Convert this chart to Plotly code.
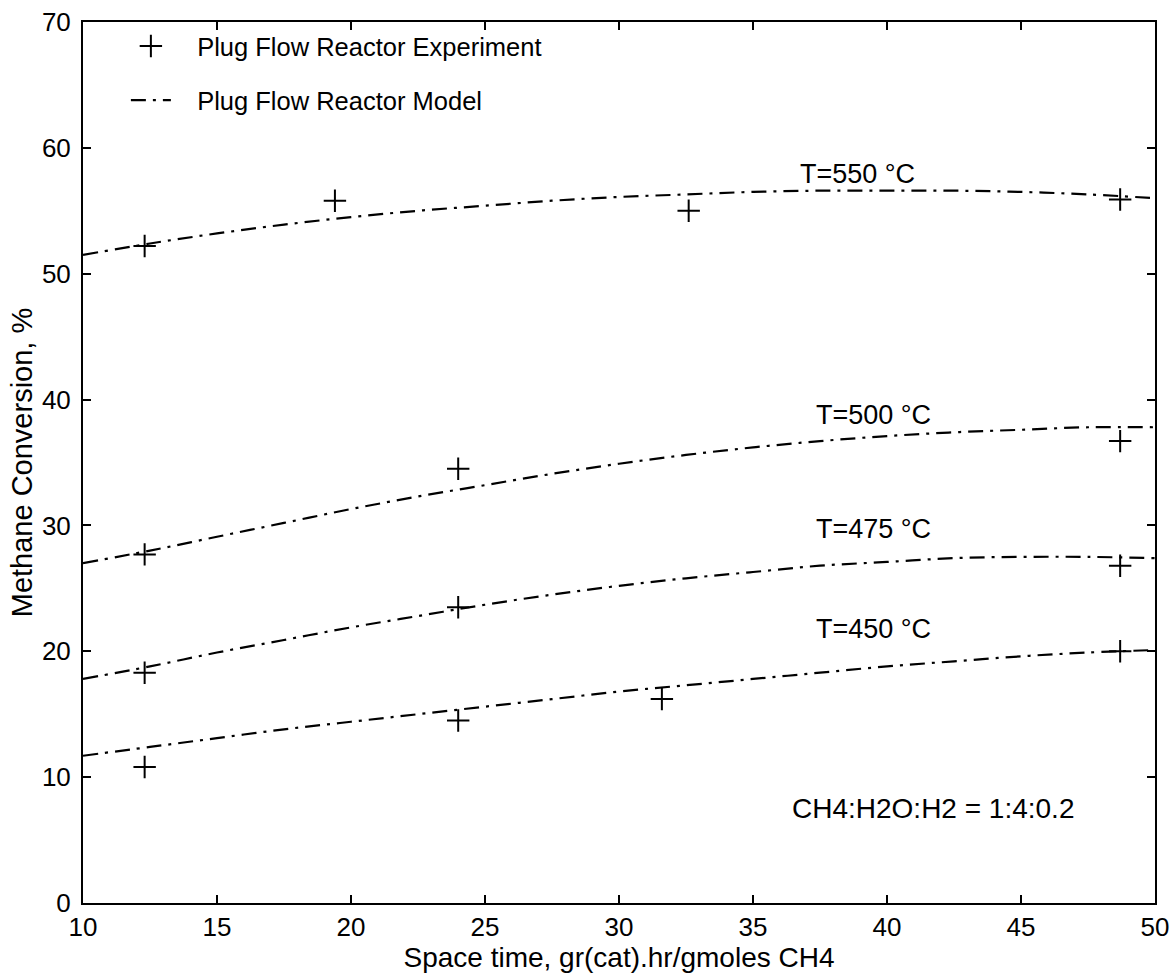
import plotly.graph_objects as go

# ---- data ----
x_model = [10, 12.5, 15, 17.5, 20, 22.5, 25, 27.5, 30, 32.5, 35, 37.5, 40, 42.5, 45, 47.5, 50]
model_550 = [51.5, 52.4, 53.2, 53.9, 54.5, 55.0, 55.4, 55.8, 56.1, 56.3, 56.5, 56.6, 56.6, 56.6, 56.5, 56.3, 56.0]
model_500 = [27.0, 28.0, 29.1, 30.2, 31.3, 32.3, 33.2, 34.1, 34.9, 35.6, 36.2, 36.7, 37.1, 37.4, 37.6, 37.8, 37.8]
model_475 = [17.8, 18.8, 19.9, 20.9, 21.9, 22.8, 23.7, 24.5, 25.2, 25.8, 26.3, 26.8, 27.1, 27.4, 27.5, 27.5, 27.4]
model_450 = [11.7, 12.4, 13.1, 13.8, 14.4, 15.0, 15.6, 16.2, 16.8, 17.3, 17.8, 18.3, 18.8, 19.2, 19.6, 19.9, 20.1]

exp_550_x = [12.3, 19.4, 32.6, 48.7]
exp_550_y = [52.2, 55.8, 55.0, 55.9]
exp_500_x = [12.3, 24.0, 48.7]
exp_500_y = [27.7, 34.5, 36.7]
exp_475_x = [12.3, 24.0, 48.7]
exp_475_y = [18.3, 23.5, 26.8]
exp_450_x = [12.3, 24.0, 31.6, 48.7]
exp_450_y = [10.8, 14.5, 16.2, 20.0]

labels = ["T=550 °C", "T=500 °C", "T=475 °C", "T=450 °C"]
label_x = [38.9, 39.5, 39.5, 39.5]
label_y = [57.9, 38.8, 29.7, 21.8]

note_text = "CH4:H2O:H2 = 1:4:0.2"
note_x, note_y = 41.7, 7.5

x_ticks = [10, 15, 20, 25, 30, 35, 40, 45, 50]
y_ticks = [0, 10, 20, 30, 40, 50, 60, 70]

FONT = "Liberation Sans, Arial, Helvetica, sans-serif"
DASH = "15px,7px,3px,7px"
SP = "\u00a0\u00a0\u00a0"

fig = go.Figure()

exp_sets = [(exp_550_x, exp_550_y), (exp_500_x, exp_500_y), (exp_475_x, exp_475_y), (exp_450_x, exp_450_y)]
for i, (ex, ey) in enumerate(exp_sets):
    fig.add_trace(go.Scatter(
        x=ex, y=ey, mode="markers", name=SP + "Plug Flow Reactor Experiment",
        legendgroup="exp", showlegend=(i == 0),
        marker=dict(symbol="cross-thin", size=16, color="black",
                    line=dict(width=2, color="black")),
    ))

for i, my in enumerate([model_550, model_500, model_475, model_450]):
    fig.add_trace(go.Scatter(
        x=x_model, y=my, mode="lines", name=SP + "Plug Flow Reactor Model",
        legendgroup="model", showlegend=(i == 0), line_shape="spline",
        line=dict(color="black", width=2.2, dash=DASH),
    ))

for t, lx, ly in zip(labels, label_x, label_y):
    fig.add_annotation(x=lx, y=ly, text=t, showarrow=False,
                       font=dict(size=27, color="black", family=FONT))
fig.add_annotation(x=note_x, y=note_y, text=note_text, showarrow=False,
                   font=dict(size=28, color="black", family=FONT))

axis_common = dict(showgrid=False, zeroline=False, showline=True, linecolor="black",
                   linewidth=2, mirror="ticks", ticks="inside", ticklen=8,
                   tickwidth=1.5, tickcolor="black", automargin=False,
                   ticklabeloverflow="allow",
                   tickfont=dict(size=26, color="black", family=FONT))

fig.update_xaxes(range=[10, 50], tickvals=x_ticks,
                 title=dict(text="Space time, gr(cat).hr/gmoles CH4", standoff=2,
                            font=dict(size=28, color="black", family=FONT)),
                 **axis_common)
fig.update_yaxes(range=[0, 70], tickvals=y_ticks, ticklabelstandoff=5,
                 title=dict(text="Methane Conversion, %", standoff=1,
                            font=dict(size=29, color="black", family=FONT)),
                 **axis_common)

fig.update_layout(
    width=1175, height=980,
    margin=dict(l=83, r=20, t=22, b=77, autoexpand=False),
    paper_bgcolor="white", plot_bgcolor="white",
    font=dict(family=FONT, color="black"),
    legend=dict(x=0.040, y=0.999, xanchor="left", yanchor="top",
                bgcolor="rgba(0,0,0,0)", borderwidth=0, tracegroupgap=18,
                itemwidth=40, font=dict(size=25.5, color="black", family=FONT)),
)

fig.write_html(
    "out.html",
    config={"displayModeBar": False},
    post_script="document.body.style.margin='0';document.body.style.overflow='hidden';",
)
